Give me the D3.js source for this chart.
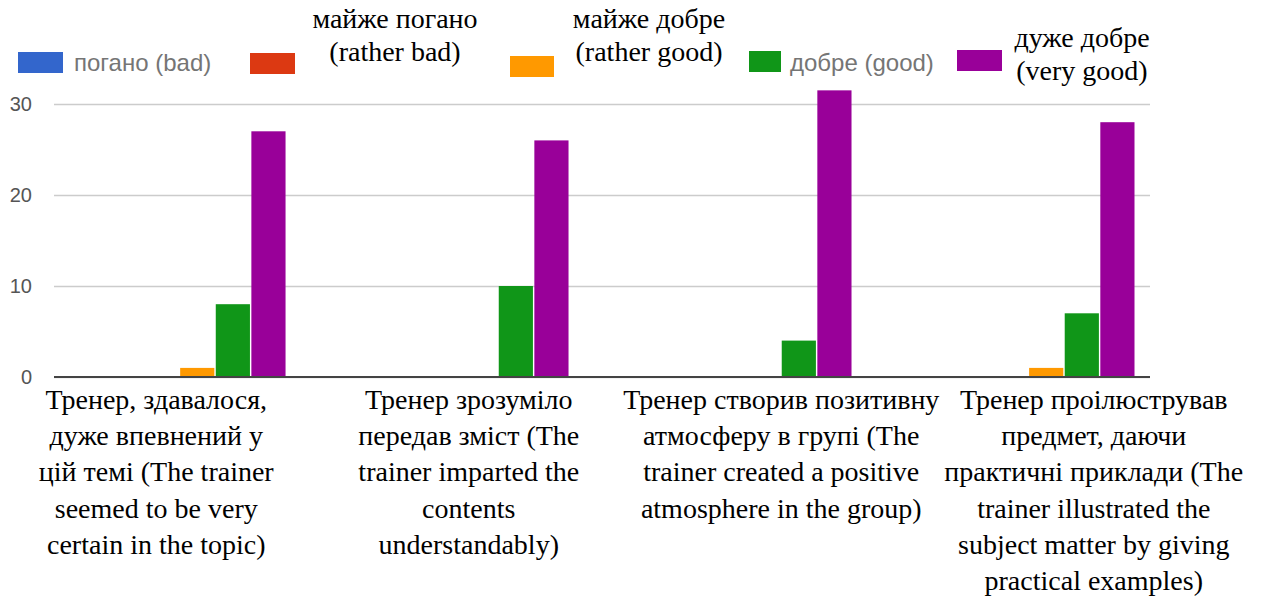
<!DOCTYPE html>
<html lang="uk">
<head>
<meta charset="UTF-8">
<title>Trainer evaluation - bar chart</title>
<script src="https://cdn.jsdelivr.net/npm/d3@7"></script>
<style>
    body { margin: 0; background: #fff; }
    svg { display: block; }
    .serif { font-family: "Liberation Serif", "Times New Roman", serif; fill: #000; }
    .sans { font-family: "Liberation Sans", Arial, sans-serif; }
</style>
</head>
<body>
<script>
// categories (x labels, already wrapped like in the picture)
const categories = ["q1", "q2", "q3", "q4"];
const categoryLines = [
    ["Тренер, здавалося,", "дуже впевнений у", "цій темі (The trainer", "seemed to be very", "certain in the topic)"],
    ["Тренер зрозуміло", "передав зміст (The", "trainer imparted the", "contents", "understandably)"],
    ["Тренер створив позитивну", "атмосферу в групі (The", "trainer created a positive", "atmosphere in the group)"],
    ["Тренер проілюстрував", "предмет, даючи", "практичні приклади (The", "trainer illustrated the", "subject matter by giving", "practical examples)"]
];

// series
const seriesKeys = ["bad", "ratherBad", "ratherGood", "good", "veryGood"];
const seriesLabels = [
    ["погано (bad)"],
    ["майже погано", "(rather bad)"],
    ["майже добре", "(rather good)"],
    ["добре (good)"],
    ["дуже добре", "(very good)"]
];
const bad        = [0, 0, 0, 0];
const ratherBad  = [0, 0, 0, 0];
const ratherGood = [1, 0, 0, 1];
const good       = [8, 10, 4, 7];
const veryGood   = [27, 26, 31.5, 28];

const yTicks = [0, 10, 20, 30];

const colors = ["#3366cc", "#dc3912", "#ff9900", "#109618", "#990099"];

// table for d3
const values = [bad, ratherBad, ratherGood, good, veryGood];
const rows = categories.map((c, i) => {
    const r = { cat: c };
    seriesKeys.forEach((k, j) => r[k] = values[j][i]);
    return r;
});

const width = 1264, height = 601;
const plotLeft = 54, plotRight = 1150, plotTop = 104, plotBottom = 377;

const svg = d3.select("body").append("svg")
    .attr("width", width)
    .attr("height", height);

const y = d3.scaleLinear().domain([0, 30]).range([plotBottom, plotTop]);

const x0 = d3.scaleBand().domain(categories).range([plotLeft, plotRight])
    .paddingInner(0.376).paddingOuter(0.1245).align(0.78);
const x1 = d3.scaleBand().domain(seriesKeys).range([0, x0.bandwidth()]).paddingInner(0.04);

// gridlines + y labels
const yAxis = svg.append("g")
    .attr("transform", "translate(" + plotLeft + ",0)")
    .call(d3.axisLeft(y).tickValues(yTicks).tickSize(-(plotRight - plotLeft)).tickPadding(22));
yAxis.select(".domain").remove();
yAxis.selectAll(".tick line").attr("stroke", "#cccccc").attr("stroke-width", 1.5);
yAxis.selectAll(".tick text")
    .attr("class", "sans")
    .attr("font-size", 20)
    .attr("fill", "#555");

// bars
svg.append("g").selectAll("g")
    .data(rows)
    .join("g")
    .attr("transform", d => "translate(" + x0(d.cat) + ",0)")
    .selectAll("rect")
    .data(d => seriesKeys.map((k, j) => ({ key: k, value: d[k], color: colors[j] })))
    .join("rect")
    .attr("x", d => x1(d.key))
    .attr("width", x1.bandwidth())
    .attr("y", d => y(d.value))
    .attr("height", d => y(0) - y(d.value))
    .attr("fill", d => d.color);

// baseline
svg.append("line")
    .attr("x1", plotLeft).attr("x2", plotRight)
    .attr("y1", y(0)).attr("y2", y(0))
    .attr("stroke", "#444").attr("stroke-width", 2);

// x labels
const xl = d3.scaleBand().domain(categories).range([0, 1250]);
svg.append("g").selectAll("text")
    .data(categories)
    .join("text")
    .attr("class", "serif")
    .attr("font-size", 28)
    .attr("text-anchor", "middle")
    .attr("transform", d => "translate(" + (xl(d) + xl.bandwidth() / 2) + ",409)")
    .selectAll("tspan")
    .data((d, i) => categoryLines[i])
    .join("tspan")
    .attr("x", 0)
    .attr("y", (d, i) => i * 36.2)
    .text(d => d);

// legend (layout only)
const legendLayout = [
    { sx: 18,  sy: 52, sw: 45, tx: 74,   anchor: "start",  ty: 63, sans: true },
    { sx: 250, sy: 53, sw: 45, tx: 395,  anchor: "middle", ty: 19 },
    { sx: 510, sy: 56, sw: 44, tx: 649,  anchor: "middle", ty: 19 },
    { sx: 749, sy: 51, sw: 32, tx: 790,  anchor: "start",  ty: 63, sans: true },
    { sx: 957, sy: 50, sw: 45, tx: 1082, anchor: "middle", ty: 38 }
];
const legend = svg.append("g").selectAll("g")
    .data(seriesKeys)
    .join("g");
legend.append("rect")
    .attr("x", (d, i) => legendLayout[i].sx)
    .attr("y", (d, i) => legendLayout[i].sy)
    .attr("width", (d, i) => legendLayout[i].sw)
    .attr("height", 21)
    .attr("fill", (d, i) => colors[i]);
legend.append("text")
    .attr("class", (d, i) => legendLayout[i].sans ? "sans" : "serif")
    .attr("font-size", (d, i) => legendLayout[i].sans ? 24 : 28)
    .attr("fill", (d, i) => legendLayout[i].sans ? "#757575" : "#000")
    .attr("text-anchor", (d, i) => legendLayout[i].anchor)
    .each(function (d, i) {
        const L = legendLayout[i];
        d3.select(this).selectAll("tspan")
            .data(seriesLabels[i])
            .join("tspan")
            .attr("x", L.tx)
            .attr("y", (t, k) => L.ty + k * 33)
            .attr("dy", "0.33em")
            .text(t => t);
    });
</script>
</body>
</html>
